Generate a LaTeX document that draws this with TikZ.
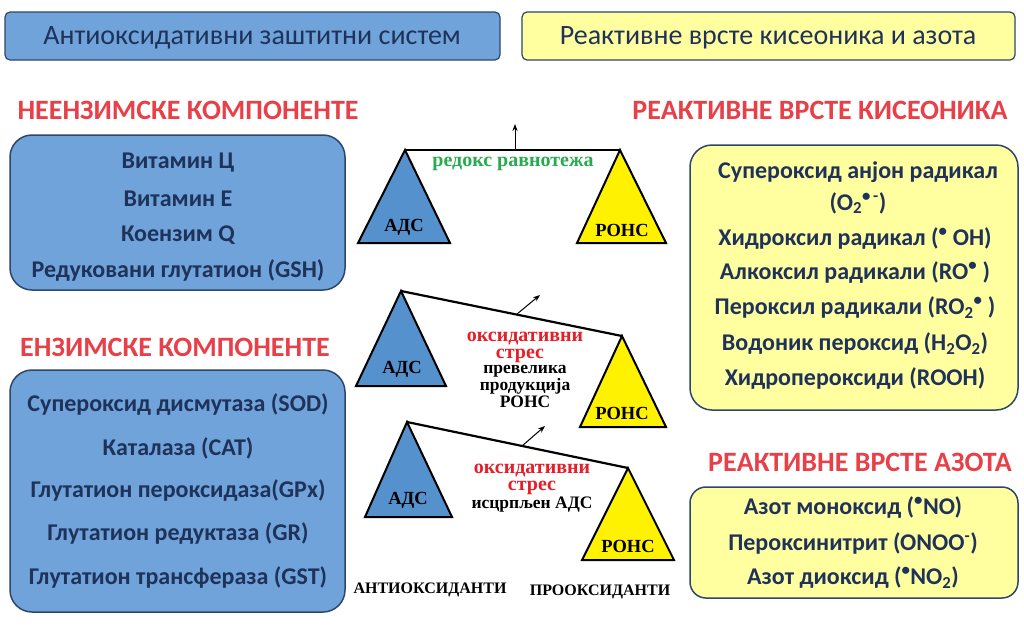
\documentclass[tikz,border=0pt]{standalone}
\usepackage{fontspec}
\setmainfont{Carlito}
\newfontfamily\serifb{Liberation Serif}
\usetikzlibrary{arrows.meta}
\definecolor{boxblue}{RGB}{112,163,218}
\definecolor{boxyellow}{RGB}{255,255,160}
\definecolor{edge}{RGB}{45,70,105}
\definecolor{navy}{RGB}{30,50,90}
\definecolor{headred}{RGB}{232,64,72}
\definecolor{triblue}{RGB}{85,145,205}
\definecolor{trired}{RGB}{230,30,40}
\definecolor{trigreen}{RGB}{40,170,80}
\newcommand{\rad}{\textsuperscript{•}}
\newcommand{\lo}[1]{\textsubscript{#1}}
\begin{document}
\begin{tikzpicture}[
  x=1pt, y=-1pt,
  topbox/.style = {draw=edge, line width=1.2pt, rounded corners=5pt},
  listbox/.style = {draw=edge, line width=1.5pt, rounded corners=22pt},
  head/.style = {text=headred, font=\fontsize{28}{30}\selectfont\bfseries},
  item/.style = {text=navy, font=\fontsize{24}{26}\selectfont\bfseries},
  tri/.style = {draw=black, line width=2pt, line join=miter},
  beam/.style = {draw=black, line width=2.2pt},
  lbl/.style = {font=\serifb\fontsize{18.5}{19}\selectfont\bfseries},
  redn/.style = {text=trired, inner sep=0pt, font=\serifb\fontsize{20}{20}\selectfont\bfseries},
  note/.style = {font=\serifb\fontsize{17.5}{18}\selectfont\bfseries, inner sep=0pt}
  ]

  \useasboundingbox (0,0) rectangle (1024,630);

  % top headers
  \filldraw[topbox, fill=boxblue] (5,12) rectangle (500,60);
  \node[font=\fontsize{28}{30}\selectfont, text=navy] (hleft) at (252,38) {Антиоксидативни заштитни систем};
  \filldraw[topbox, fill=boxyellow] (522,12) rectangle (1015,60);
  \node[font=\fontsize{28}{30}\selectfont, text=navy] (hright) at (768,38) {Реактивне врсте кисеоника и азота};

  % left column
  \node[head] (nonenz) at (188,110) {НЕЕНЗИМСКЕ КОМПОНЕНТЕ};
  \filldraw[listbox, fill=boxblue] (10,135) rectangle (345,290);
  \node[item] (a1) at (178,163) {Витамин Ц};
  \node[item] (a2) at (178,199) {Витамин Е};
  \node[item] (a3) at (178,235) {Коензим Q};
  \node[item] (a4) at (178,271) {Редуковани глутатион (GSH)};

  \node[head] (enz) at (175,347) {ЕНЗИМСКЕ КОМПОНЕНТЕ};
  \filldraw[listbox, fill=boxblue] (10,370) rectangle (345,612);
  \node[item] (b1) at (178,405) {Супероксид дисмутаза (SOD)};
  \node[item] (b2) at (178,448) {Каталаза (CAT)};
  \node[item] (b3) at (178,491) {Глутатион пероксидаза(GPx)};
  \node[item] (b4) at (178,534) {Глутатион редуктаза (GR)};
  \node[item] (b5) at (178,578) {Глутатион трансфераза (GST)};

  % right column
  \node[head] (ros) at (820,110) {РЕАКТИВНЕ ВРСТЕ КИСЕОНИКА};
  \filldraw[listbox, fill=boxyellow] (690,145) rectangle (1018,410);
  \node[item] (c1) at (858,172) {Супероксид анјон радикал};
  \node[item] (c1b) at (858,203) {(O\lo{2}\textsuperscript{•\,-})};
  \node[item] (c2) at (855,239) {Хидроксил радикал (\rad\ OH)};
  \node[item] (c3) at (855,273) {Алкоксил радикали (RO\rad\ )};
  \node[item] (c4) at (855,308) {Пероксил радикали (RO\lo{2}\rad\ )};
  \node[item] (c5) at (855,344) {Водоник пероксид (H\lo{2}O\lo{2})};
  \node[item] (c6) at (855,379) {Хидропероксиди (ROOH)};

  \node[head] (rns) at (860,462) {РЕАКТИВНЕ ВРСТЕ АЗОТА};
  \filldraw[listbox, rounded corners=16pt, fill=boxyellow] (690,487) rectangle (1018,598);
  \node[item] (d1) at (853,508) {Азот моноксид (\rad NO)};
  \node[item] (d2) at (853,543) {Пероксинитрит (ONOO\textsuperscript{-})};
  \node[item] (d3) at (853,578) {Азот диоксид (\rad NO\lo{2})};

  % balance 1
  \coordinate (l1) at (405,150);
  \coordinate (r1) at (620,150);
  \filldraw[tri, fill=triblue] (l1) -- (450,243) -- (358,243) -- cycle;
  \filldraw[tri, fill=yellow] (r1) -- (666,243) -- (577,243) -- cycle;
  \draw[beam] (l1) -- (r1);
  \coordinate (m1) at (515,150);
  \coordinate (t1) at (515,124);
  \draw[-{Stealth[length=7pt]}, line width=1pt] (m1) -- (t1);
  \node[redn, text=trigreen] (eq) at (513,164) {редокс равнотежа};
  \node[lbl] (ads1) at (404,227) {АДС};
  \node[lbl] (rons1) at (622,230) {РОНС};

  % balance 2
  \coordinate (l2) at (401,291);
  \coordinate (r2) at (622,336);
  \filldraw[tri, fill=triblue] (l2) -- (446,386) -- (356,386) -- cycle;
  \filldraw[tri, fill=yellow] (r2) -- (666,427) -- (580,427) -- cycle;
  \draw[beam] (l2) -- (r2);
  \coordinate (m2) at (517,314);
  \coordinate (t2) at (540,295);
  \draw[-{Stealth[length=7pt]}, line width=1pt] (m2) -- (t2);
  \node[redn] (ox2) at (525,339) {оксидативни};
  \node[redn] (st2) at (520,356) {стрес};
  \node[note] (p2a) at (525,371) {превелика};
  \node[note] (p2b) at (525,386) {продукција};
  \node[note] (p2c) at (525,402) {РОНС};
  \node[lbl] (ads2) at (402,369) {АДС};
  \node[lbl] (rons2) at (622,413) {РОНС};

  % balance 3
  \coordinate (l3) at (407,422);
  \coordinate (r3) at (628,468);
  \filldraw[tri, fill=triblue] (l3) -- (452,517) -- (365,517) -- cycle;
  \filldraw[tri, fill=yellow] (r3) -- (674,560) -- (582,560) -- cycle;
  \draw[beam] (l3) -- (r3);
  \coordinate (m3) at (522,446);
  \coordinate (t3) at (545,426);
  \draw[-{Stealth[length=7pt]}, line width=1pt] (m3) -- (t3);
  \node[redn] (ox3) at (532,471) {оксидативни};
  \node[redn] (st3) at (532,488) {стрес};
  \node[note] (p3) at (532,505) {исцрпљен АДС};
  \node[lbl] (ads3) at (408,500) {АДС};
  \node[lbl] (rons3) at (628,546) {РОНС};

  \node[lbl, font=\serifb\fontsize{16}{16}\selectfont\bfseries] (anti) at (430,590) {АНТИОКСИДАНТИ};
  \node[lbl, font=\serifb\fontsize{16}{16}\selectfont\bfseries] (pro) at (600,592) {ПРООКСИДАНТИ};
\end{tikzpicture}
\end{document}
